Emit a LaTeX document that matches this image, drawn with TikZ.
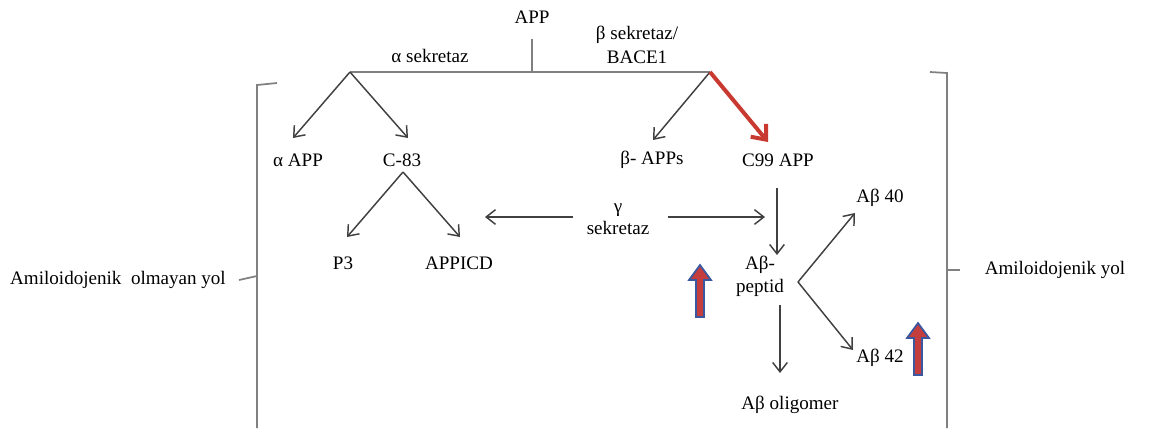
\documentclass[tikz,border=0pt]{standalone}
\usepackage{fontspec}
\setmainfont{Liberation Serif}
\usetikzlibrary{arrows.meta,calc}

\definecolor{arrgray}{RGB}{64,64,64}
\definecolor{lngray}{RGB}{128,128,128}
\definecolor{redarr}{RGB}{200,58,48}
\definecolor{upred}{RGB}{196,62,62}
\definecolor{upblue}{RGB}{58,88,160}

\tikzset{every picture/.style={line width=0.75pt}}
\tikzset{
  lbl/.style={inner sep=0pt, align=center, font=\fontsize{14.3}{18.5}\selectfont},
  arr/.style={draw=arrgray, line width=1.1pt, -{Straight Barb[length=7pt,width=11pt]}},
  bracketline/.style={draw=lngray, line width=1.3pt},
  uparrow/.pic={
    \draw [draw=upblue, fill=upred, line width=1.3pt] (-4,0) -- (-4,37) -- (-11,37) -- (0,52) -- (11,37) -- (4,37) -- (4,0) -- cycle ;
  }
}

\begin{document}
\begin{tikzpicture}[x=0.75pt,y=0.75pt,yscale=-1,xscale=1]
        \path [use as bounding box] (0,0) rectangle (1150,433);

        % Text Node
        \node (app) at (532,17) [lbl] {APP};
        % Text Node
        \node (asek) at (430,56) [lbl] {α sekretaz};
        % Text Node
        \node (bsek) at (637,45) [lbl] {β sekretaz/\\BACE1};
        % Text Node
        \node (aapp) at (298,160) [lbl] {α APP};
        % Text Node
        \node (c83) at (402,160) [lbl] {C-83};
        % Text Node
        \node (bapps) at (652,160) [lbl] {β- APPs};
        % Text Node
        \node (c99) at (778,160) [lbl] {C99 APP};
        % Text Node
        \node (p3) at (343,263) [lbl] {P3};
        % Text Node
        \node (appicd) at (459,263) [lbl] {APPICD};
        % Text Node
        \node (gsek) at (618,219) [lbl, font=\fontsize{14.3}{16.5}\selectfont] {γ\\sekretaz};
        % Text Node
        \node (apep) at (760,276) [lbl, font=\fontsize{14.3}{17.5}\selectfont] {Aβ-\\peptid};
        % Text Node
        \node (ab40) at (880,198) [lbl] {Aβ 40};
        % Text Node
        \node (ab42) at (880,358) [lbl] {Aβ 42};
        % Text Node
        \node (aolig) at (790,405) [lbl] {Aβ oligomer};
        % Text Node
        \node (lnon) at (118,280) [lbl] {Amiloidojenik\ \ olmayan yol};
        % Text Node
        \node (lamy) at (1055,270) [lbl] {Amiloidojenik yol};

        %Split points
        \coordinate (asplit) at (350,72);
        \coordinate (bsplit) at (710,72);
        \coordinate (csplit) at (403,172);
        \coordinate (psplit) at (798,282);

        %Straight Lines
        \draw [draw=lngray, line width=1.3pt] ($(app.south)+(0,15)$) -- (app.south |- asplit);
        \draw [draw=lngray, line width=1.3pt] (asplit) -- (bsplit);

        %Straight Lines
        \draw [arr] (asplit) -- ($(aapp)+(-5,-22)$);
        \draw [arr] (asplit) -- ($(c83)+(6,-22)$);
        \draw [arr] (csplit) -- ($(p3)+(4,-26)$);
        \draw [arr] (csplit) -- ($(appicd)+(1,-26)$);
        \draw [arr] (bsplit) -- ($(bapps)+(1,-20)$);
        \draw [draw=redarr, line width=3pt, -{Straight Barb[length=9pt,width=15pt]}] (bsplit) -- ($(c99)+(-10,-18)$);

        %Straight Lines
        \draw [arr] ($(gsek)+(-45,-2)$) -- ($(gsek)+(-133,-2)$);
        \draw [arr] ($(gsek)+(50,-2)$) -- ($(gsek)+(147,-2)$);
        \draw [arr] ($(c99)+(-1,28)$) -- ($(apep)+(17,-21)$);
        \draw [arr] (psplit) -- ($(ab40)+(-25,15)$);
        \draw [arr] (psplit) -- ($(ab42)+(-27,-8)$);
        \draw [arr] ($(apep)+(20,29)$) -- ($(aolig)+(-10,-32)$);

        %Block arrows
        \pic at (700,317) {uparrow};
        \pic at (918,375) {uparrow};

        %Brackets
        \draw [bracketline] (277,83) -- (257,85) -- (257,428);
        \draw [bracketline] (257,276) -- (239,280);
        \draw [bracketline] (930,72) -- (947,73) -- (947,428);
        \draw [bracketline] (947,270) -- (960,270);

\end{tikzpicture}
\end{document}
